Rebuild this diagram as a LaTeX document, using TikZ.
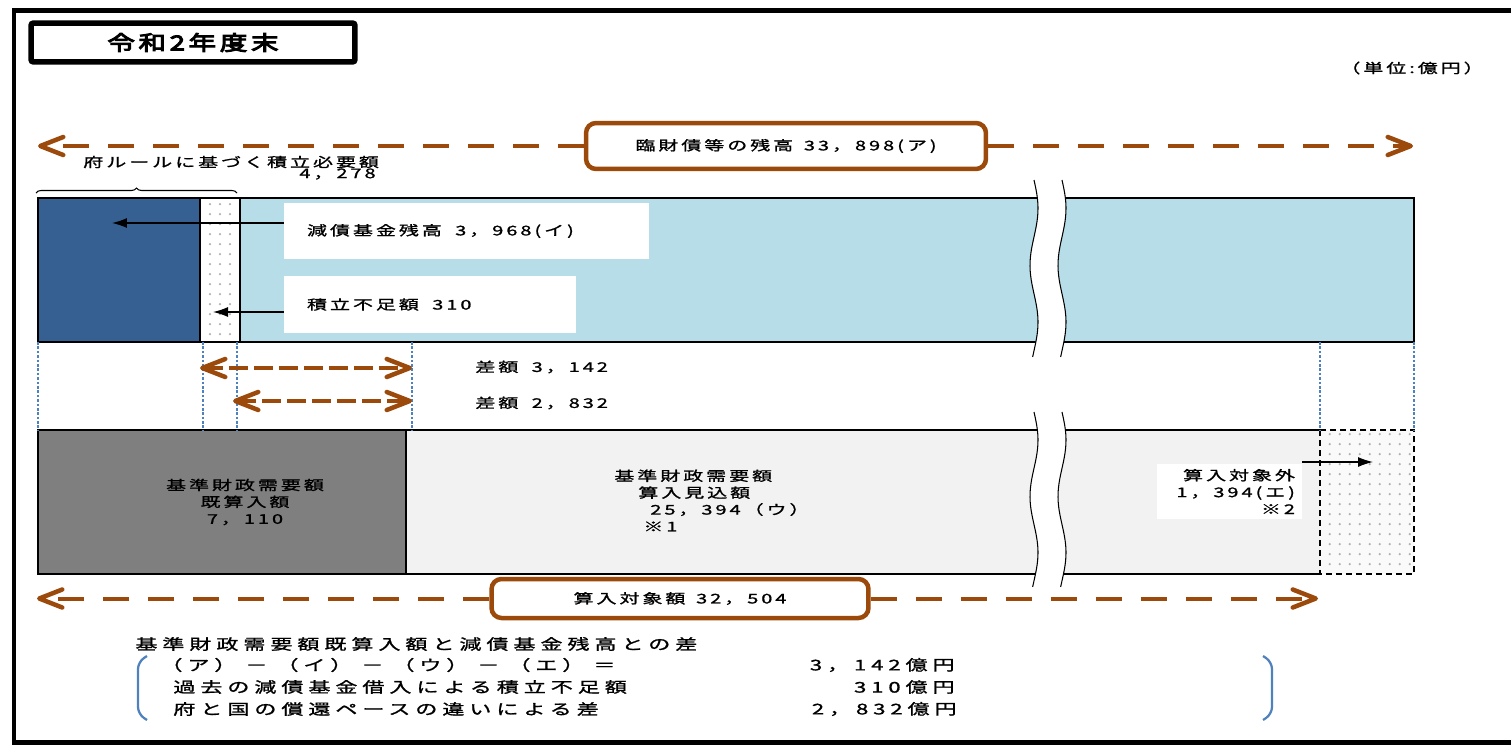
\documentclass[tikz,border=0pt]{standalone}
\usepackage{fontspec}
\usetikzlibrary{arrows.meta,patterns.meta,decorations.pathreplacing}
\newfontfamily\jp[FakeStretch=1.5,LetterSpace=22,FakeBold=1.2]{Noto Sans CJK JP}
\newfontfamily\jpw[FakeStretch=1.5,LetterSpace=33,FakeBold=1.2]{Noto Sans CJK JP}
\newfontfamily\jpt[FakeStretch=1.35,LetterSpace=18,FakeBold=5]{Noto Sans CJK JP}
\definecolor{kidark}{HTML}{376092}
\definecolor{kilight}{HTML}{B7DEE8}
\definecolor{sangray}{HTML}{7F7F7F}
\definecolor{sanlight}{HTML}{F2F2F2}
\definecolor{zanbrown}{HTML}{9C4A0B}
\definecolor{guideblue}{HTML}{4F81BD}
\begin{document}
\begin{tikzpicture}[x=0.02cm,y=-0.02cm,>=Latex,
    lbl/.style={font=\jp\fontsize{7.6}{9.6}\selectfont,inner sep=0pt},
    lblw/.style={font=\jpw\fontsize{8.4}{10}\selectfont,inner sep=0pt},
    lblbox/.style={lbl,fill=white,align=left,inner xsep=0.46cm},
    zanbox/.style={lbl,draw=zanbrown,line width=0.09cm,rounded corners=0.2cm,fill=white},
    brarrow/.style={zanbrown,line width=0.08cm,dash pattern=on 0.52cm off 0.38cm,-{Straight Barb[length=0.46cm,width=0.36cm,line width=0.09cm,round]}},
    dbarrow/.style={zanbrown,line width=0.08cm,dash pattern=on 0.38cm off 0.12cm,{Straight Barb[length=0.46cm,width=0.36cm,line width=0.09cm,round]}-{Straight Barb[length=0.46cm,width=0.36cm,line width=0.09cm,round]}},
    barline/.style={black,line width=0.05cm},
    guide/.style={guideblue,line width=0.6pt,dash pattern=on 1.5pt off 1pt},
    blk/.style={black,line width=0.7pt,-{Latex[length=0.3cm,width=0.2cm]}},
    dotfill/.style={pattern={Dots[distance=0.2cm,radius=0.025cm]},pattern color=gray!60},
    brk/.style={guideblue,line width=0.045cm,rounded corners=0.14cm}]
\useasboundingbox (0,0) rectangle (1511,744);
\draw[line width=0.1cm] (1511,10.5) -- (14,10.5) -- (14,742.5) -- (1511,742.5);
\node[draw,line width=0.11cm,rounded corners=0.05cm,minimum width=6.48cm,minimum height=0.78cm,inner sep=0pt,
    font=\jpt\fontsize{11.6}{13}\selectfont] (nendo) at (193,42.5) {令和2年度末};
\node[lbl,anchor=west] (tani) at (1340,68) {（単位:億円）};

\fill[kidark] (38,198) rectangle (200,342);
\fill[white] (200,198) rectangle (240,342);
\fill[dotfill] (200,198) rectangle (240,342);
\fill[kilight] (240,198) rectangle (1414,342);
\draw[barline] (38,198) rectangle (1414,342);
\draw[barline] (200,198) -- (200,342) (240,198) -- (240,342);

\fill[sangray] (38,430) rectangle (406,574);
\fill[sanlight] (406,430) rectangle (1320,574);
\fill[sanlight!40] (1320,430) rectangle (1414,574);
\fill[dotfill] (1320,430) rectangle (1414,574);
\draw[barline] (1320,430) -- (38,430) -- (38,574) -- (1320,574);
\draw[barline] (406,430) -- (406,574);
\draw[barline,dash pattern=on 0.12cm off 0.08cm] (1320,430) rectangle (1414,574);

\foreach \gx in {38,203,237,412,1320,1414}
    \draw[guide] (\gx,342) -- (\gx,430);

\foreach \ya/\yb in {180/357,412/587}{
    \fill[white] plot[domain=0:1,samples=40] ({1034+4*sin(\x*560)},{\ya+(\yb-\ya)*\x})
        -- plot[domain=0:1,samples=40] ({1062+4*sin((1-\x)*560)},{\yb-(\yb-\ya)*\x}) -- cycle;
    \draw[line width=0.6pt] plot[domain=0:1,samples=40] ({1034+4*sin(\x*560)},{\ya+(\yb-\ya)*\x});
    \draw[line width=0.6pt] plot[domain=0:1,samples=40] ({1062+4*sin(\x*560)},{\ya+(\yb-\ya)*\x});
}

\node[zanbox,minimum width=8cm,minimum height=0.92cm] (zan) at (786,146) {臨財債等の残高\hspace{0.8em}33，898(ア)};
\coordinate (zanL) at (38,146);
\coordinate (zanR) at (1413,146);
\draw[brarrow] (zan.west) -- (zanL);
\draw[brarrow] (zan.east) -- (zanR);

\node[lbl,anchor=west] (hitsuyo) at (83,162) {府ルールに基づく積立必要額};
\node[lbl,anchor=east] (hitsuyoN) at (376,174) {4，278};
\draw[decorate,decoration={brace,amplitude=0.1cm},line width=0.6pt] (36,193) -- (237,193);

\node[lblbox,minimum height=1.12cm,text width=6.38cm] (ilbl) at (466.5,231) {減債基金残高\hspace{1em}3，968(イ)};
\node[lblbox,minimum height=1.14cm,text width=4.92cm] (flbl) at (430,304.5) {積立不足額\hspace{1em}310};
\coordinate (ikin) at (112,223);
\coordinate (fusoku) at (213,312);
\draw[blk] (ilbl.west |- ikin) -- (ikin);
\draw[blk] (flbl.west |- fusoku) -- (fusoku);

\coordinate (d1a) at (200,368);
\coordinate (d1b) at (412,368);
\coordinate (d2a) at (233,401);
\coordinate (d2b) at (412,401);
\draw[dbarrow] (d1a) -- (d1b);
\draw[dbarrow] (d2a) -- (d2b);
\node[lbl,anchor=west] (sa1) at (475,367) {差額\hspace{1em}3，142};
\node[lbl,anchor=west] (sa2) at (475,403) {差額\hspace{1em}2，832};

\node[lbl,align=center] (kisan) at (245,502) {基準財政需要額\\既算入額\\7，110};
\node[lbl,align=left,anchor=west] (mikomi) at (614,500.5) {基準財政需要額\\\hspace*{0.48cm}算入見込額\\\hspace*{0.72cm}25，394（ウ）\\\hspace*{0.58cm}※1};
\node[lbl,fill=white,align=right,inner xsep=0.14cm,text width=2.62cm,minimum height=1.1cm] (gbox) at (1229.5,491.5) {算入対象外\\1，394(エ)\\※2};
\coordinate (gai) at (1373,462);
\draw[blk] (gbox.north east |- gai) -- (gai);

\node[zanbox,minimum width=7.54cm,minimum height=0.78cm] (taisho) at (680,598.5) {算入対象額\hspace{0.8em}32，504};
\coordinate (taishoL) at (37,598.5);
\coordinate (taishoR) at (1318,598.5);
\draw[brarrow] (taisho.west) -- (taishoL);
\draw[brarrow] (taisho.east) -- (taishoR);

\node[lblw,anchor=west] (sahead) at (135,644) {基準財政需要額既算入額と減債基金残高との差};
\node[lblw,anchor=west] (shiki) at (160,665) {（ア）\hspace{0.6em}－\hspace{0.6em}（イ）\hspace{0.6em}－\hspace{0.6em}（ウ）\hspace{0.6em}－\hspace{0.6em}（エ）\hspace{0.6em}＝};
\node[lblw,anchor=west] (kako) at (173,687) {過去の減債基金借入による積立不足額};
\node[lblw,anchor=west] (shokan) at (173,709) {府と国の償還ペースの違いによる差};
\node[lblw,anchor=east] (v1) at (955,665) {3，142億円};
\node[lblw,anchor=east] (v2) at (955,687) {310億円};
\node[lblw,anchor=east] (v3) at (957,709) {2，832億円};
\draw[brk] (147,656) -- (138,662) -- (138,714) -- (147,720);
\draw[brk] (1263,656) -- (1272,662) -- (1272,714) -- (1263,720);
\end{tikzpicture}
\end{document}
